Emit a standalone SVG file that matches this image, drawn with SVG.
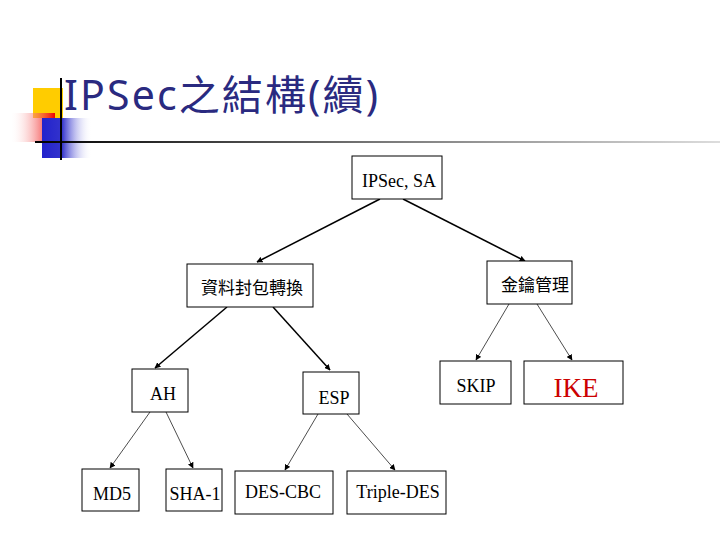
<svg xmlns="http://www.w3.org/2000/svg" width="720" height="540" viewBox="0 0 720 540">
<defs>
<linearGradient id="red" x1="1" y1="0" x2="0" y2="0"><stop offset="0" stop-color="#e00"/><stop offset="1" stop-color="#fff" stop-opacity="0"/></linearGradient>
<linearGradient id="blue" x1="0" y1="0" x2="1" y2="0"><stop offset="0" stop-color="#22c"/><stop offset="0.4" stop-color="#33c"/><stop offset="1" stop-color="#fff" stop-opacity="0"/></linearGradient>
<linearGradient id="line" x1="0" y1="0" x2="1" y2="0"><stop offset="0" stop-color="#000"/><stop offset="0.5" stop-color="#777"/><stop offset="1" stop-color="#ddd"/></linearGradient>
<marker id="a" viewBox="0 0 10 10" refX="9" refY="5" markerWidth="6" markerHeight="6" markerUnits="userSpaceOnUse" orient="auto"><path d="M0,0L10,5L0,10z" fill="#000"/></marker>
<style>
.b{fill:#fff;stroke:#000;stroke-width:1}
.t{font-family:"Liberation Serif",serif;font-size:18px;fill:#000;text-anchor:middle}
.c{font-family:"Noto Sans CJK TC",sans-serif;font-size:17px;fill:#000;text-anchor:middle}
.k{stroke:#000;fill:none;marker-end:url(#a)}
</style>
</defs>
<rect x="33" y="88" width="30" height="30" fill="#fc0"/>
<rect x="10" y="113" width="45" height="29" fill="url(#red)"/>
<rect x="42" y="118" width="50" height="40" fill="url(#blue)"/>
<rect x="35" y="141" width="685" height="2" fill="url(#line)"/>
<rect x="60" y="78" width="2" height="82" fill="#000"/>
<text x="64" y="110" font-family="'Noto Sans','Noto Sans CJK TC',sans-serif" font-size="41" fill="#2a2a80" textLength="314">IPSec之結構(續)</text>
<g id="connectors" class="k">
<line x1="380" y1="199" x2="257" y2="262" stroke-width="1.5"/>
<line x1="403" y1="199" x2="525" y2="261" stroke-width="1.5"/>
<line x1="227" y1="307" x2="155" y2="368" stroke-width="1.5"/>
<line x1="273" y1="307" x2="330" y2="370" stroke-width="1.5"/>
<line x1="509" y1="304" x2="476" y2="360" stroke-width="0.7"/>
<line x1="537" y1="304" x2="572" y2="360" stroke-width="0.7"/>
<line x1="150" y1="412" x2="110" y2="468" stroke-width="0.7"/>
<line x1="166" y1="412" x2="193" y2="468" stroke-width="0.7"/>
<line x1="318" y1="414" x2="285" y2="470" stroke-width="0.7"/>
<line x1="347" y1="414" x2="395" y2="470" stroke-width="0.7"/>
</g>
<g id="ipsec"><rect class="b" x="352" y="156" width="90" height="43"/><text class="t" x="399" y="187">IPSec, SA</text></g>
<g id="data"><rect class="b" x="187" y="264" width="126" height="43"/><text class="c" x="252" y="294">資料封包轉換</text></g>
<g id="key"><rect class="b" x="487" y="261" width="85" height="43"/><text class="c" x="535" y="291">金鑰管理</text></g>
<g id="ah"><rect class="b" x="132" y="369" width="56" height="43"/><text class="t" x="163" y="400">AH</text></g>
<g id="esp"><rect class="b" x="303" y="372" width="56" height="42"/><text class="t" x="334" y="404">ESP</text></g>
<g id="skip"><rect class="b" x="440" y="361" width="71" height="43"/><text class="t" x="476" y="392">SKIP</text></g>
<g id="ike"><rect class="b" x="524" y="361" width="99" height="43"/><text class="t" x="576" y="397" style="font-size:27px;fill:#c00">IKE</text></g>
<g id="md5"><rect class="b" x="82" y="469" width="57" height="42"/><text class="t" x="112" y="500">MD5</text></g>
<g id="sha1"><rect class="b" x="166" y="469" width="56" height="42"/><text class="t" x="195" y="500">SHA-1</text></g>
<g id="descbc"><rect class="b" x="235" y="471" width="98" height="43"/><text class="t" x="283" y="498">DES-CBC</text></g>
<g id="tdes"><rect class="b" x="347" y="471" width="99" height="43"/><text class="t" x="398" y="498">Triple-DES</text></g>
</svg>
